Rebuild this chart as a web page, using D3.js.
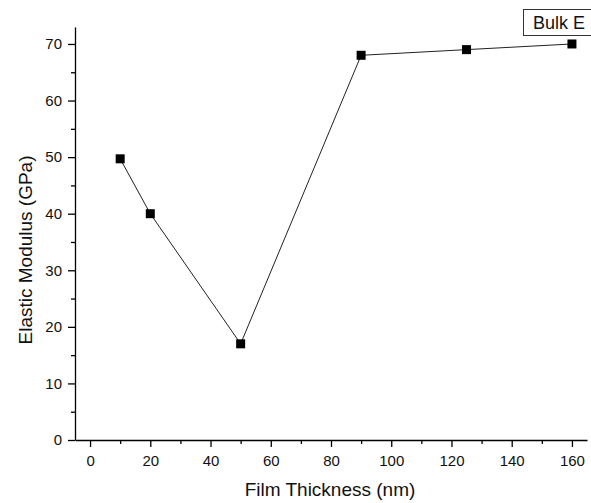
<!DOCTYPE html>
<html lang="en">
<head>
    <meta charset="UTF-8">
    <title>Elastic Modulus vs Film Thickness</title>
    <script src="https://d3js.org/d3.v7.min.js"></script>
    <style>
        body { margin: 0; padding: 0; background: #fff; overflow: hidden; }
        svg { display: block; }
        svg text { font-family: Arial, "Liberation Sans", sans-serif; fill: #111; }
        .axis path, .axis line { stroke: #000; stroke-width: 1.3px; }
        .axis text { font-size: 15px; }
    </style>
</head>
<body>
    <svg id="chart"></svg>
    <script>
        // Data
        const thickness = [10, 20, 50, 90, 125, 160];
        const modulus = [49.7, 40, 17, 68, 69, 70];
        const xTicks = [0, 20, 40, 60, 80, 100, 120, 140, 160];
        const yTicks = [0, 10, 20, 30, 40, 50, 60, 70];

        const width = 591, height = 503;
        const svg = d3.select("#chart").attr("width", width).attr("height", height);

        const x = d3.scaleLinear().domain([-5, 165]).range([75, 587]);
        const y = d3.scaleLinear().domain([0, 73]).range([440, 27]);

        // minor ticks (every 10 / every 5)
        const xMinor = d3.range(10, 170, 20);
        const yMinor = d3.range(5, 75, 10);

        svg.append("g")
            .attr("class", "axis")
            .attr("transform", "translate(0,440)")
            .call(d3.axisBottom(x).tickValues(xMinor).tickSize(4).tickFormat(""))
            .call(g => g.select(".domain").remove());

        svg.append("g")
            .attr("class", "axis")
            .attr("transform", "translate(0,440)")
            .call(d3.axisBottom(x).tickValues(xTicks).tickSize(7).tickSizeOuter(0).tickPadding(8));

        svg.append("g")
            .attr("class", "axis")
            .attr("transform", "translate(75,0)")
            .call(d3.axisLeft(y).tickValues(yMinor).tickSize(4).tickFormat(""))
            .call(g => g.select(".domain").remove());

        svg.append("g")
            .attr("class", "axis")
            .attr("transform", "translate(75,0)")
            .call(d3.axisLeft(y).tickValues(yTicks).tickSize(7).tickSizeOuter(0).tickPadding(6));

        // axis titles
        svg.append("text")
            .attr("x", 330).attr("y", 496)
            .attr("text-anchor", "middle")
            .attr("font-size", 19)
            .text("Film Thickness (nm)");

        svg.append("text")
            .attr("transform", "translate(32,250) rotate(-90)")
            .attr("text-anchor", "middle")
            .attr("font-size", 19)
            .text("Elastic Modulus (GPa)");

        // line + markers
        const pts = thickness.map((t, i) => [t, modulus[i]]);
        const line = d3.line().x(d => x(d[0])).y(d => y(d[1]));

        svg.append("path")
            .datum(pts)
            .attr("d", line)
            .attr("fill", "none")
            .attr("stroke", "#222")
            .attr("stroke-width", 1);

        const ms = 9;
        svg.selectAll(".pt")
            .data(pts)
            .enter().append("rect")
            .attr("class", "pt")
            .attr("x", d => x(d[0]) - ms / 2)
            .attr("y", d => y(d[1]) - ms / 2)
            .attr("width", ms)
            .attr("height", ms)
            .attr("fill", "#000");

        // legend box, cut by the right edge
        svg.append("rect")
            .attr("x", 523.5).attr("y", 9.5)
            .attr("width", 90).attr("height", 26)
            .attr("fill", "#fff")
            .attr("stroke", "#333")
            .attr("stroke-width", 1);

        svg.append("text")
            .attr("x", 533).attr("y", 29)
            .attr("font-size", 18)
            .text("Bulk E");
    </script>
</body>
</html>
